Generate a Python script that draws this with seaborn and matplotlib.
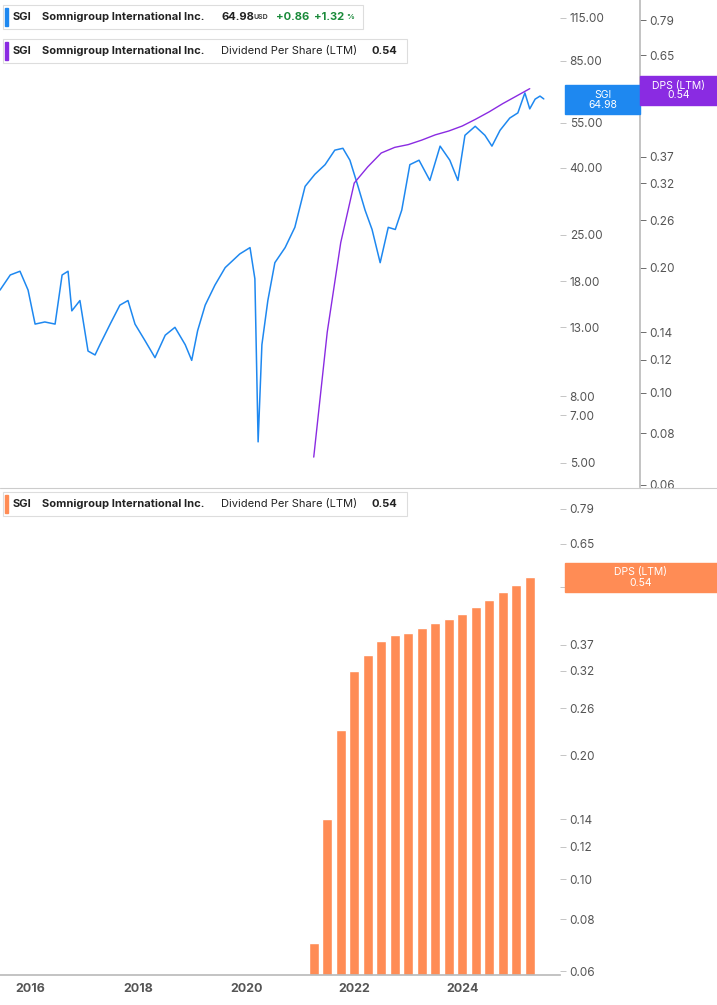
import matplotlib
matplotlib.use("Agg")
import matplotlib.pyplot as plt
import numpy as np
import pandas as pd
import seaborn as sns
from matplotlib.ticker import FixedLocator, NullLocator, FixedFormatter

sns.set_theme(style="white", font="Inter")

# price series (decimal year, close)
price_t = [2015.44, 2015.63, 2015.81, 2015.96, 2016.09, 2016.27, 2016.46, 2016.59, 2016.70, 2016.77,
           2016.92, 2017.07, 2017.20, 2017.29, 2017.48, 2017.66, 2017.81, 2017.94, 2018.13, 2018.31,
           2018.50, 2018.68, 2018.87, 2018.99, 2019.10, 2019.24, 2019.42, 2019.61, 2019.88, 2020.07,
           2020.16, 2020.22, 2020.29, 2020.40, 2020.53, 2020.72, 2020.90, 2021.09, 2021.27, 2021.46,
           2021.64, 2021.79, 2021.92, 2022.07, 2022.20, 2022.33, 2022.48, 2022.63, 2022.76, 2022.88,
           2023.03, 2023.20, 2023.40, 2023.59, 2023.77, 2023.92, 2024.05, 2024.24, 2024.42, 2024.55,
           2024.70, 2024.88, 2025.03, 2025.16, 2025.25, 2025.35, 2025.44, 2025.51]
price_v = [16.9, 18.8, 19.3, 16.9, 13.3, 13.5, 13.3, 18.8, 19.3, 14.6,
           15.7, 11.0, 10.7, 11.5, 13.3, 15.2, 15.7, 13.3, 11.8, 10.5,
           12.3, 13.0, 11.5, 10.3, 12.7, 15.2, 17.5, 19.8, 21.8, 22.8,
           18.3, 5.8, 11.5, 15.7, 20.5, 22.8, 26.3, 35.1, 38.2, 40.9,
           45.3, 45.9, 42.2, 35.1, 29.7, 25.9, 20.5, 26.3, 25.9, 29.7,
           40.9, 42.2, 36.6, 46.6, 42.2, 36.6, 50.3, 53.6, 50.3, 46.6,
           52.1, 56.8, 58.9, 67.8, 60.6, 64.9, 66.3, 65.0]

# dividend per share (LTM), quarterly
dps_t = [2021.25, 2021.50, 2021.75, 2022.00, 2022.25, 2022.50, 2022.75, 2023.00, 2023.25,
         2023.50, 2023.75, 2024.00, 2024.25, 2024.50, 2024.75, 2025.00, 2025.25]
dps_v = [0.07, 0.14, 0.23, 0.32, 0.35, 0.378, 0.39, 0.396, 0.406, 0.418, 0.427, 0.439,
         0.456, 0.475, 0.497, 0.518, 0.54]

price_ticks = [5.0, 7.0, 8.0, 13.0, 18.0, 25.0, 40.0, 55.0, 85.0, 115.0]
dps_ticks = [0.06, 0.08, 0.10, 0.12, 0.14, 0.20, 0.26, 0.32, 0.37, 0.51, 0.65, 0.79]
year_ticks = [2016, 2018, 2020, 2022, 2024]

BLUE = "#1e88f0"
PURPLE = "#8a2be2"
ORANGE = "#ff8c55"
GRAY = "#555555"

W, H = 717, 1005
fig = plt.figure(figsize=(W / 100, H / 100), dpi=100)
xlim = (2015.44, 2015.44 + 560 / 54)


def style_log(ax, ticks, fmt, lim):
    ax.set_yscale("log")
    ax.set_ylim(*lim)
    ax.yaxis.set_major_locator(FixedLocator(ticks))
    ax.yaxis.set_major_formatter(FixedFormatter([fmt.format(t) for t in ticks]))
    ax.yaxis.set_minor_locator(NullLocator())
    ax.tick_params(axis="y", labelsize=8.5, colors=GRAY, length=4, width=0.6, pad=3)


# top panel
ax = fig.add_axes([0, 1 - 487 / H, 560 / W, 487 / H])
sns.lineplot(x=price_t, y=price_v, ax=ax, color=BLUE, linewidth=1.1)
ax.set_xlim(*xlim)
style_log(ax, price_ticks, "{:.2f}", (4.22, 130.5))
ax.set_xticks([])

ax2 = ax.twinx()
sns.lineplot(x=dps_t, y=dps_v, ax=ax2, color=PURPLE, linewidth=1.0)
ax2.set_xlim(*xlim)
style_log(ax2, dps_ticks, "{:.2f}", (0.0593, 0.883))
ax2.spines["right"].set_position(("axes", 640 / 560))
ax2.spines["right"].set_color("#bbbbbb")
for s in ["top", "left", "bottom"]:
    ax2.spines[s].set_visible(False)

ax.yaxis.tick_right()
ax.yaxis.set_label_position("right")
ax.set_ylabel("")
ax2.set_ylabel("")
for s in ["top", "left", "bottom", "right"]:
    ax.spines[s].set_visible(False)
ax.tick_params(axis="y", color="#bbbbbb")

# bottom panel
axb = fig.add_axes([0, 1 - 975 / H, 560 / W, 485 / H])
axb.set_yscale("log")
sns.barplot(x=dps_t, y=dps_v, ax=axb, color=ORANGE, native_scale=True, width=0.72,
            saturation=1, bottom=0.0001)
axb.set_xlim(*xlim)
style_log(axb, dps_ticks, "{:.2f}", (0.0587, 0.878))
axb.yaxis.tick_right()
axb.tick_params(axis="y", color="#bbbbbb")
axb.set_xticks(year_ticks)
axb.set_xticklabels([str(y) for y in year_ticks])
axb.tick_params(axis="x", labelsize=9, colors=GRAY, length=0, pad=6)
for lbl in axb.get_xticklabels():
    lbl.set_fontweight("bold")
for s in ["top", "left", "right"]:
    axb.spines[s].set_visible(False)
axb.spines["bottom"].set_color("#bbbbbb")
axb.set_xlabel("")
axb.set_ylabel("")

fig.add_artist(plt.Line2D([0, 1], [1 - 488 / H, 1 - 488 / H], color="#cccccc", lw=0.8))


def px(x, y):
    return x / W, 1 - y / H


def value_tag(x0, y0, w, h, color, lines):
    fig.add_artist(plt.Rectangle(px(x0, y0 + h), w / W, h / H, color=color, zorder=5))
    fig.text(*px(x0 + w / 2, y0 + h / 2), lines, color="white", fontsize=7.5,
             ha="center", va="center", zorder=6, linespacing=1.0)


value_tag(565, 85, 75, 29, BLUE, "SGI\n64.98")
value_tag(640, 76, 77, 29, PURPLE, "DPS (LTM)\n0.54")
value_tag(565, 563, 152, 29, ORANGE, "DPS (LTM)\n0.54")


def legend_row(y, color, parts, w):
    fig.add_artist(plt.Rectangle(px(3, y + 12), w / W, 24 / H, facecolor="white",
                                 edgecolor="#dddddd", lw=0.8, zorder=5))
    fig.add_artist(plt.Rectangle(px(5, y + 9), 3 / W, 18 / H, color=color, zorder=6))
    for x, txt, c, fs, fw in parts:
        fig.text(*px(x, y), txt, color=c, fontsize=fs, fontweight=fw, va="center", zorder=7)


FS = 8
legend_row(17, BLUE, [(13, "SGI", "#222222", FS, "bold"),
                      (42, "Somnigroup International Inc.", "#222222", FS, "bold"),
                      (221, "64.98", "#222222", FS, "bold"),
                      (254, "USD", "#444444", 5, "bold"),
                      (276, "+0.86", "#1a8a3a", FS, "bold"),
                      (314, "+1.32", "#1a8a3a", FS, "bold"),
                      (346, "%", "#1a8a3a", 5.5, "bold")], 360)
legend_row(51, PURPLE, [(13, "SGI", "#222222", FS, "bold"),
                        (42, "Somnigroup International Inc.", "#222222", FS, "bold"),
                        (221, "Dividend Per Share (LTM)", "#222222", FS, "normal"),
                        (371, "0.54", "#222222", FS, "bold")], 404)
legend_row(504, ORANGE, [(13, "SGI", "#222222", FS, "bold"),
                         (42, "Somnigroup International Inc.", "#222222", FS, "bold"),
                         (221, "Dividend Per Share (LTM)", "#222222", FS, "normal"),
                         (371, "0.54", "#222222", FS, "bold")], 404)

fig.savefig("out.png", dpi=100)
